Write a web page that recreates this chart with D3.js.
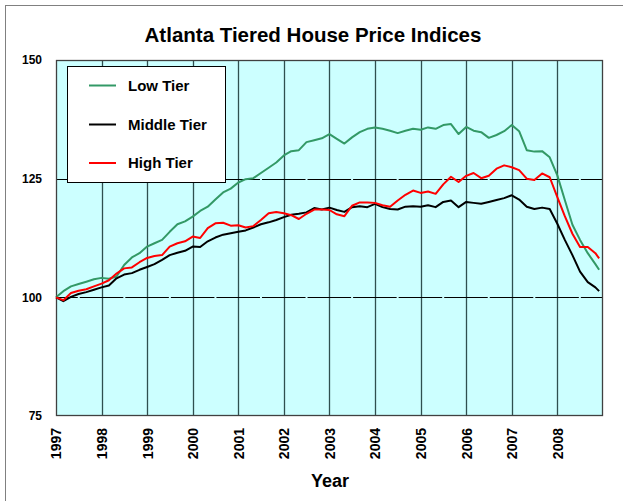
<!DOCTYPE html>
<html>
<head>
<meta charset="utf-8">
<script src="https://cdn.jsdelivr.net/npm/d3@7"></script>
<style>
  html, body { margin: 0; padding: 0; background: #ffffff; }
  svg { display: block; }
  text { font-family: Arial, "Liberation Sans", sans-serif; font-weight: bold; fill: #000; }
</style>
</head>
<body>
<svg id="chart" width="623" height="501"></svg>
<script>
// ---- data (bimonthly) ----
const dates = [
  "1997-01","1997-03","1997-05","1997-07","1997-09","1997-11",
  "1998-01","1998-03","1998-05","1998-07","1998-09","1998-11",
  "1999-01","1999-03","1999-05","1999-07","1999-09","1999-11",
  "2000-01","2000-03","2000-05","2000-07","2000-09","2000-11",
  "2001-01","2001-03","2001-05","2001-07","2001-09","2001-11",
  "2002-01","2002-03","2002-05","2002-07","2002-09","2002-11",
  "2003-01","2003-03","2003-05","2003-07","2003-09","2003-11",
  "2004-01","2004-03","2004-05","2004-07","2004-09","2004-11",
  "2005-01","2005-03","2005-05","2005-07","2005-09","2005-11",
  "2006-01","2006-03","2006-05","2006-07","2006-09","2006-11",
  "2007-01","2007-03","2007-05","2007-07","2007-09","2007-11",
  "2008-01","2008-03","2008-05","2008-07","2008-09","2008-11","2008-12"
];
const lowTier = [
  100.0,101.3,102.3,102.8,103.3,103.8,
  104.1,103.9,104.4,106.8,108.4,109.3,
  110.7,111.4,112.1,113.8,115.4,116.0,
  117.0,118.2,119.1,120.6,122.1,122.9,
  124.2,124.9,125.1,126.2,127.3,128.4,
  129.9,130.8,131.0,132.7,133.1,133.5,
  134.4,133.4,132.4,133.7,134.8,135.5,
  135.8,135.5,135.1,134.6,135.1,135.5,
  135.3,135.8,135.5,136.3,136.5,134.4,
  135.9,135.1,134.8,133.6,134.2,135.0,
  136.3,135.0,131.0,130.7,130.8,129.5,
  125.7,120.5,115.3,112.1,109.3,107.0,105.8
];
const middleTier = [
  100.0,99.2,100.1,100.7,101.1,101.6,
  102.1,102.5,104.0,104.8,105.1,105.8,
  106.4,107.0,107.9,108.9,109.4,109.8,
  110.7,110.6,111.8,112.6,113.2,113.5,
  113.8,114.1,114.7,115.4,115.8,116.3,
  116.9,117.4,117.6,117.9,118.8,118.5,
  118.9,118.4,118.0,119.0,119.2,119.0,
  119.7,119.0,118.6,118.5,119.1,119.2,
  119.1,119.4,119.0,120.1,120.4,119.0,
  120.1,119.9,119.7,120.1,120.5,120.9,
  121.5,120.6,119.1,118.6,118.9,118.6,
  115.5,112.1,108.9,105.4,103.2,102.1,101.3
];
const highTier = [
  100.0,99.4,100.9,101.4,101.7,102.3,
  102.9,103.6,105.0,106.1,106.3,107.4,
  108.3,108.7,108.9,110.7,111.4,111.8,
  112.8,112.5,114.6,115.6,115.7,115.1,
  115.2,114.7,115.0,116.3,117.7,118.0,
  117.7,117.3,116.5,117.6,118.5,118.5,
  118.4,117.5,117.1,119.3,120.0,120.0,
  119.9,119.4,119.1,120.4,121.6,122.5,
  122.0,122.3,121.8,123.8,125.4,124.3,
  125.6,126.2,125.1,125.6,127.1,127.8,
  127.4,126.8,125.0,124.7,126.1,125.3,
  121.1,117.1,113.4,110.6,110.6,109.3,108.2
];
const yearTicks = ["1997","1998","1999","2000","2001","2002","2003","2004","2005","2006","2007","2008"];
const yTicks = [75, 100, 125, 150];
const seriesNames = ["Low Tier", "Middle Tier", "High Tier"];
const seriesColors = ["#339966", "#000000", "#ff0000"];

// ---- layout ----
const svg = d3.select("#chart");
const plot = { left: 56, top: 60, right: 603, bottom: 416 };
const parse = d3.timeParse("%Y-%m");
const x = d3.scaleTime()
  .domain([parse("1997-01"), parse("2009-01")])
  .range([plot.left, plot.right]);
const y = d3.scaleLinear().domain([75, 150]).range([plot.bottom, plot.top]);

// outer frame
svg.append("rect")
  .attr("x", 5.5).attr("y", 5.5).attr("width", 640).attr("height", 520)
  .attr("fill", "none").attr("stroke", "#808080").attr("stroke-width", 1);

// plot background
svg.append("rect")
  .attr("x", plot.left).attr("y", plot.top)
  .attr("width", plot.right - plot.left).attr("height", plot.bottom - plot.top)
  .attr("fill", "#ccffff");

// vertical gridlines at years
const yearW = x(parse("1998-01")) - x(parse("1997-01"));
svg.append("g").selectAll("line")
  .data(yearTicks.slice(1))
  .join("line")
  .attr("x1", d => Math.round(x(parse(d + "-01"))) + 0.5)
  .attr("x2", d => Math.round(x(parse(d + "-01"))) + 0.5)
  .attr("y1", plot.top).attr("y2", plot.bottom)
  .attr("stroke", "#2f4f4f").attr("stroke-width", 1.3);

// horizontal gridlines (with small gaps at mid-year like the reference)
svg.append("g").selectAll("line")
  .data(yTicks.filter(v => v > 75 && v < 150))
  .join("line")
  .attr("x1", plot.left).attr("x2", plot.right)
  .attr("y1", d => Math.round(y(d)) + 0.5).attr("y2", d => Math.round(y(d)) + 0.5)
  .attr("stroke", "#000").attr("stroke-width", 1)
  .attr("stroke-dasharray", `${yearW - 2},2`)
  .attr("stroke-dashoffset", yearW / 2 - 1);

// plot border
svg.append("rect")
  .attr("x", plot.left + 0.5).attr("y", plot.top + 0.5)
  .attr("width", plot.right - plot.left - 1).attr("height", plot.bottom - plot.top - 1)
  .attr("fill", "none").attr("stroke", "#404040").attr("stroke-width", 1.3);

// series lines
const series = [lowTier, middleTier, highTier];
const line = d3.line()
  .x((d, i) => x(parse(dates[i])))
  .y(d => y(d));
[0, 1, 2].forEach(si => {
  svg.append("path")
    .datum(series[si])
    .attr("d", line)
    .attr("fill", "none")
    .attr("stroke", seriesColors[si])
    .attr("stroke-width", 2)
    .attr("stroke-linejoin", "round");
});

// y axis labels
const yAxis = d3.axisLeft(y).tickValues(yTicks).tickSize(0).tickPadding(0);
const gy = svg.append("g").attr("transform", `translate(${plot.left - 14},0)`).call(yAxis);
gy.select(".domain").remove();
gy.selectAll("text")
  .style("font-family", "Arial, 'Liberation Sans', sans-serif")
  .style("font-weight", "bold").style("font-size", "12px").attr("fill", "#000");

// x axis labels (rotated)
const xAxis = d3.axisBottom(x)
  .tickValues(yearTicks.map(d => parse(d + "-01")))
  .tickFormat(d3.timeFormat("%Y")).tickSize(0).tickPadding(0);
const gx = svg.append("g").attr("transform", `translate(0,${plot.bottom})`).call(xAxis);
gx.select(".domain").remove();
gx.selectAll("text")
  .style("font-family", "Arial, 'Liberation Sans', sans-serif")
  .style("font-weight", "bold").style("font-size", "14px").attr("fill", "#000")
  .attr("text-anchor", "end")
  .attr("dy", "0.35em")
  .attr("transform", "translate(0,12) rotate(-90)")
  .attr("x", 0).attr("y", 0);

// title
svg.append("text")
  .attr("x", 313).attr("y", 42)
  .attr("text-anchor", "middle")
  .style("font-size", "20.5px")
  .text("Atlanta Tiered House Price Indices");

// x axis title
svg.append("text")
  .attr("x", 330).attr("y", 487)
  .attr("text-anchor", "middle")
  .style("font-size", "18px")
  .text("Year");

// legend
const lg = svg.append("g");
lg.append("rect")
  .attr("x", 67.5).attr("y", 66.5).attr("width", 158).attr("height", 116)
  .attr("fill", "#ffffff").attr("stroke", "#000").attr("stroke-width", 1);
const rowsY = [85.5, 124.5, 163];
seriesNames.forEach((name, i) => {
  lg.append("line")
    .attr("x1", 89).attr("x2", 116).attr("y1", rowsY[i]).attr("y2", rowsY[i])
    .attr("stroke", seriesColors[i]).attr("stroke-width", 2);
  lg.append("text")
    .attr("x", 128).attr("y", rowsY[i]).attr("dy", "0.36em")
    .style("font-size", "15px")
    .text(name);
});
</script>
</body>
</html>
